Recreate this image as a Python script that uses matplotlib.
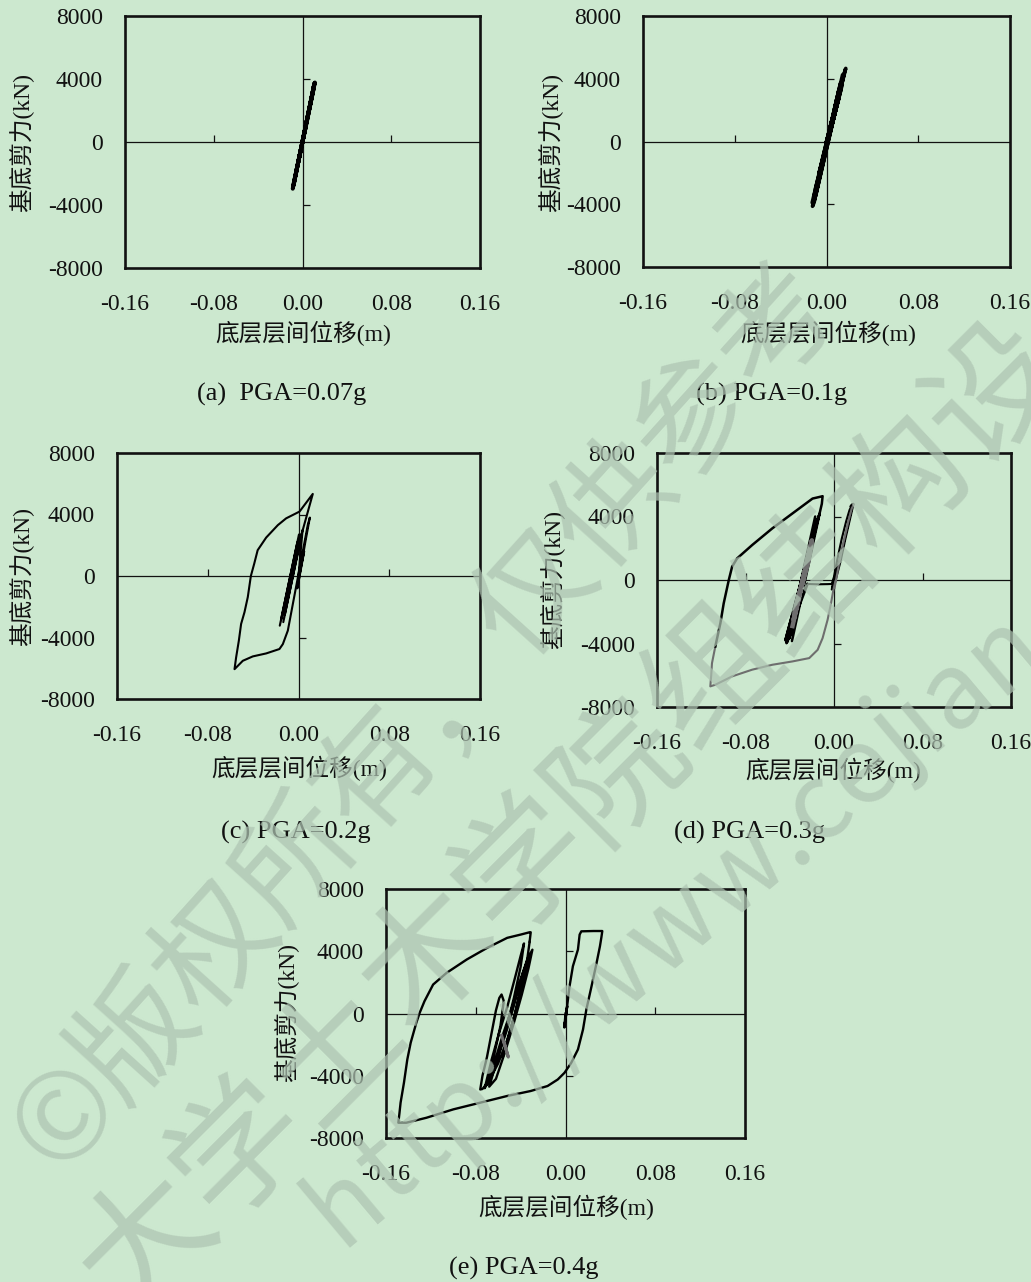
import math
import matplotlib
matplotlib.use("Agg")
import matplotlib.pyplot as plt
from matplotlib.markers import TICKUP, TICKRIGHT

plt.rcParams["font.family"] = ["Liberation Serif", "Noto Sans CJK SC"]

# ---------------- data ----------------
x_ticks = [-0.16, -0.08, 0.00, 0.08, 0.16]
x_tick_labels = ["-0.16", "-0.08", "0.00", "0.08", "0.16"]
y_ticks = [-8000, -4000, 0, 4000, 8000]
y_tick_labels = ["-8000", "-4000", "0", "4000", "8000"]
x_label = "底层层间位移(m)"
y_label = "基底剪力(kN)"
captions = ["(a)  PGA=0.07g", "(b) PGA=0.1g", "(c) PGA=0.2g", "(d) PGA=0.3g", "(e) PGA=0.4g"]

# (a) PGA=0.07g  drift (m) / base shear (kN)
xa = [0.0000, 0.0040, 0.0112, 0.0102, -0.0088, -0.0082, 0.0098, 0.0105, -0.0080,
      -0.0070, 0.0090, 0.0108, -0.0060, 0.0030, 0.0000]
ya = [0, 1300, 3780, 3500, -2970, -2700, 3300, 3650, -2750, -2350, 3100, 3750, -2000, 1000, 0]

# (b) PGA=0.1g
xb = [0.0000, 0.0059, 0.0168, 0.0160, -0.0114, -0.0122, 0.0121, 0.0138, -0.0110, -0.0094,
      0.0152, 0.0140, -0.0125, -0.0107, 0.0108, 0.0124, -0.0096, -0.0080, 0.0092, 0.0108,
      -0.0068, 0.0052, 0.0000]
yb = [0, 1500, 4660, 4500, -4000, -4130, 3700, 3650, -3500, -3450, 4300, 4250, -3900, -3850,
      3300, 3250, -3000, -2900, 2800, 2750, -2100, 1500, 0]

# (c) PGA=0.2g
xc = [0.0000, 0.0036, -0.0134, 0.0004, -0.0165, 0.0031, -0.0120, -0.0010, -0.0153, 0.0019,
      0.0126, 0.0009, -0.0109, -0.0182, -0.0285, -0.0360, -0.0390, -0.0420, -0.0447, -0.0476,
      -0.0506, -0.0526, -0.0550, -0.0564, -0.0491, -0.0403, -0.0285, -0.0168, -0.0138, -0.0094,
      -0.0079, -0.0035, -0.0006, 0.0038, 0.0082, 0.0100, 0.0060, -0.0010, 0.0050, 0.0005]
yc = [0, 2990, -3000, 2700, -3230, 2800, -2500, 2200, -2800, 2500,
      5340, 4190, 3750, 3310, 2500, 1680, 810, 0, -1370, -2350,
      -3120, -4210, -5300, -6060, -5515, -5230, -5036, -4750, -4430, -3550,
      -2960, -1240, -110, 1610, 3330, 3800, 2200, -800, 1600, 0]

# (d) PGA=0.3g : black and grey traces
xd_a = [0.0000, 0.0030, -0.0020, 0.0025, -0.0012, 0.0010, 0.0060, 0.0100, 0.0140, 0.0160,
        0.0175, 0.0170, 0.0140, 0.0100, 0.0060, 0.0030, 0.0012]
yd_a = [0, 900, -600, 700, -210, 200, 1500, 2700, 3900, 4500, 4800, 4600, 3700, 2500, 1200, 400, -100]
xd_b = [0.0012, -0.0006, -0.0027, -0.0058, -0.0103, -0.0148, -0.0224, -0.0376, -0.0558,
        -0.0740, -0.0921, -0.1073, -0.1118, -0.1110, -0.1103, -0.1073]
yd_b = [-100, -630, -1470, -2510, -3660, -4400, -4920, -5130, -5340, -5650, -6070, -6600,
        -6700, -6000, -5240, -4190]
xd_c = [-0.1073, -0.1027, -0.0997, -0.0951, -0.0921, -0.0876, -0.0740, -0.0558, -0.0376,
        -0.0194, -0.0120, -0.0103, -0.0110, -0.0130,
        -0.0430, -0.0130, -0.0380, -0.0170, -0.0420, -0.0145, -0.0395, -0.0160, -0.0405,
        -0.0135, -0.0440, -0.0155, -0.0410, -0.0175, -0.0385, -0.0190, -0.0370,
        -0.0210, -0.0350, -0.0239]
yd_c = [-4190, -2720, -1470, 0, 840, 1360, 2200, 3250, 4190,
        5130, 5250, 5280, 4800, 4200,
        -3980, 4190, -3850, 4000, -3900, 3900, -3500, 3800, -3700,
        4100, -3800, 3700, -3600, 3300, -3200, 3000, -2800,
        2500, -2300, -250]
xd_d = [-0.0375, -0.0200, -0.0365, -0.0210, -0.0355, -0.0220, -0.0340, -0.0230]
yd_d = [-2900, 2500, -2500, 2100, -2100, 1700, -1600, 1200]
xd_e = [-0.0239, -0.0150, -0.0060, -0.0020, 0.0000, 0.0030, 0.0070, 0.0110, 0.0140, 0.0164, 0.0150]
yd_e = [-250, -270, -260, -250, 200, 1300, 2600, 3700, 4400, 4770, 4650]
xd_f = [0.0005, 0.0050, 0.0090, 0.0130, 0.0160, 0.0178]
yd_f = [-500, 1200, 2500, 3700, 4500, 4750]

# (e) PGA=0.4g
xe_a = [0.0000, -0.0009, 0.0015, -0.0010, 0.0010, 0.0036, 0.0066, 0.0111, 0.0126, 0.0141,
        0.0250, 0.0328, 0.0320, 0.0307, 0.0277, 0.0232, 0.0186, 0.0156, 0.0111, 0.0051,
        -0.0009, -0.0069, -0.0160, -0.0310, -0.0520, -0.0760, -0.1000, -0.1240, -0.1420,
        -0.1490, -0.1480, -0.1470, -0.1440, -0.1410, -0.1380, -0.1330, -0.1300, -0.1257,
        -0.1180, -0.1060, -0.0880, -0.0700, -0.0520, -0.0400, -0.0320, -0.0310, -0.0320]
ye_a = [0, -810, 470, -900, 200, 1750, 3040, 4110, 5070, 5280,
        5300, 5300, 4900, 4320, 3250, 1750, 260, -1030, -2310, -3170,
        -3810, -4240, -4660, -4980, -5300, -5730, -6160, -6700, -7020,
        -7020, -6400, -5730, -4450, -2950, -1880, -600, 40, 790,
        1860, 2610, 3470, 4210, 4860, 5070, 5220, 5220, 4600]
xe_b = [-0.0320, -0.0350, -0.0400, -0.0450, -0.0520, -0.0600, -0.0680, -0.0740, -0.0760,
        -0.0740, -0.0700, -0.0660, -0.0620, -0.0590, -0.0570,
        -0.0550, -0.0580, -0.0640, -0.0700, -0.0720,
        -0.0660, -0.0590, -0.0520, -0.0450, -0.0400, -0.0370,
        -0.0400, -0.0460, -0.0530, -0.0620, -0.0700,
        -0.0640, -0.0560, -0.0480, -0.0400, -0.0340, -0.0295,
        -0.0330, -0.0390, -0.0460, -0.0540, -0.0620, -0.0680,
        -0.0610, -0.0520, -0.0440, -0.0380, -0.0330,
        -0.0380, -0.0450, -0.0520, -0.0560]
ye_b = [4600, 3000, 1500, 0, -1700, -3200, -4300, -4850, -4880,
        -4000, -2800, -1300, 200, 1000, 1220,
        800, -800, -2800, -4500, -4800,
        -3000, -1200, 400, 2300, 3700, 4500,
        3000, 1000, -1000, -3200, -4600,
        -3300, -1400, 300, 2200, 3500, 4100,
        2900, 1200, -600, -2500, -4200, -4700,
        -3000, -1000, 1000, 2600, 3600,
        2000, 0, -1800, -2800]
xe_c = [-0.0570, -0.0530, -0.0510, -0.0545]
ye_c = [-1400, -2300, -2800, -1900]

# watermark lines
wm_lines = ["©版权所有，仅供参考", "大学土木学院组结构设计", "http://www.cejiangw"]

# ---------------- figure ----------------
W, H = 1031, 1282
BG = "#cce8cf"
GREY = "#6e6e6e"
INK = "#111111"
fig = plt.figure(figsize=(W / 100, H / 100), dpi=100, facecolor=BG)


def px_axes(left, top, right, bottom):
    return fig.add_axes([left / W, 1 - bottom / H, (right - left) / W, (bottom - top) / H])


def fig_text(x, y, s, **kw):
    return fig.text(x / W, 1 - y / H, s, **kw)


def setup(ax):
    ax.set_facecolor(BG)
    ax.set_xlim(-0.16, 0.16)
    ax.set_ylim(-8000, 8000)
    ax.set_xticks(x_ticks)
    ax.set_xticklabels(x_tick_labels)
    ax.set_yticks(y_ticks)
    ax.set_yticklabels(y_tick_labels)
    ax.tick_params(axis="both", length=0, labelsize=17, colors=INK)
    ax.tick_params(axis="x", pad=19)
    ax.tick_params(axis="y", pad=16)
    for s in ax.spines.values():
        s.set_linewidth(1.9)
        s.set_color(INK)
    ax.axhline(0, color=INK, lw=0.9, zorder=1)
    ax.axvline(0, color=INK, lw=0.9, zorder=1)
    ax.plot([-0.08, 0.08], [0, 0], ls="none", marker=TICKUP, ms=5, mew=0.9, color=INK)
    ax.plot([0, 0], [-4000, 4000], ls="none", marker=TICKRIGHT, ms=5, mew=0.9, color=INK)


LW = 1.5
panels = [
    (125, 16, 480, 268),
    (643, 16, 1010, 267),
    (117, 453, 480, 699),
    (657, 453, 1011, 707),
    (386, 889, 745, 1138),
]
axes = [px_axes(*p) for p in panels]
for ax in axes:
    setup(ax)

axes[0].plot(xa, ya, color="black", lw=2.8)
axes[1].plot(xb, yb, color="black", lw=2.6)
axes[2].plot(xc, yc, color="black", lw=LW)
axes[3].plot(xd_a, yd_a, color="black", lw=LW)
axes[3].plot(xd_b, yd_b, color=GREY, lw=LW)
axes[3].plot(xd_c, yd_c, color="black", lw=1.8)
axes[3].plot(xd_d, yd_d, color=GREY, lw=3.2)
axes[3].plot(xd_e, yd_e, color="black", lw=LW)
axes[3].plot(xd_f, yd_f, color=GREY, lw=LW)
axes[4].plot(xe_a, ye_a, color="black", lw=1.7)
axes[4].plot(xe_b, ye_b, color="black", lw=1.7)
axes[4].plot(xe_c, ye_c, color=GREY, lw=2.2)

# axis titles and captions (pixel positions)
xlabel_pos = [(303, 333), (828, 333), (299, 768), (833, 770), (566, 1207)]
ylabel_pos = [(22, 142), (551, 142), (22, 576), (553, 580), (287, 1013)]
caption_pos = [(282, 394), (772, 394), (296, 832), (750, 832), (524, 1268)]
for (x, y) in xlabel_pos:
    fig_text(x, y, x_label, fontsize=17, ha="center", va="center", color=INK)
for (x, y) in ylabel_pos:
    fig_text(x, y, y_label, fontsize=17, ha="center", va="center", rotation=90, color=INK)
for (x, y), cap in zip(caption_pos, captions):
    fig_text(x, y, cap, fontsize=19, ha="center", va="center", color=INK)

# diagonal copyright watermark, glyph by glyph along three slanted lines
ADV = {"©": 0.75, "h": 0.62, "t": 0.40, "p": 0.62, ":": 0.30, "/": 0.40, "w": 0.82,
       ".": 0.30, "c": 0.52, "e": 0.56, "j": 0.30, "i": 0.30, "a": 0.56, "n": 0.62, "g": 0.62}
WM = dict(color="#aec4b2", alpha=0.72, rotation_mode="anchor", ha="center", va="center",
          family=["Noto Sans CJK SC", "DejaVu Sans"], zorder=20)


def watermark(text, x0, y0, angle, size_pt):
    em = size_pt * 100 / 72
    dx, dy = math.cos(math.radians(angle)), -math.sin(math.radians(angle))
    s = 0.0
    for ch in text:
        a = ADV.get(ch, 1.0)
        cx, cy = x0 + (s + a / 2) * em * dx, y0 + (s + a / 2) * em * dy
        s += a
        if -20 < cx < W + 20 and -20 < cy < H + 20:
            fig_text(cx, cy, ch, fontsize=size_pt, rotation=angle, **WM)


watermark(wm_lines[0], 37, 1150, 48, 86)
watermark(wm_lines[1], 100, 1290, 45, 96)
watermark(wm_lines[2], 320, 1225, 40, 76)

fig.savefig("out.png", dpi=100, facecolor=BG)
